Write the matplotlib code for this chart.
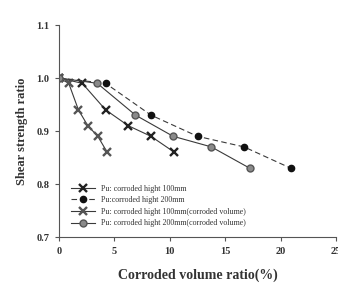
import matplotlib
matplotlib.use("Agg")
import matplotlib.pyplot as plt

# Werte
x_100 = [0, 2.1, 4.2, 6.25, 8.3, 10.4]
y_100 = [1.0, 0.99, 0.94, 0.91, 0.89, 0.86]

x_200 = [0, 4.2, 8.3, 12.5, 16.7, 20.9]
y_200 = [1.0, 0.99, 0.93, 0.89, 0.87, 0.83]

x_100v = [0, 0.88, 1.75, 2.6, 3.5, 4.35]
y_100v = [1.0, 0.99, 0.94, 0.91, 0.89, 0.86]

x_200v = [0, 3.45, 6.9, 10.3, 13.75, 17.2]
y_200v = [1.0, 0.99, 0.93, 0.89, 0.87, 0.83]

labels = [
    "Pu: corroded hight 100mm",
    "Pu:corroded hight 200mm",
    "Pu: corroded hight 100mm(corroded volume)",
    "Pu: corroded hight 200mm(corroded volume)",
]

plt.rcParams["font.family"] = ["Liberation Serif", "DejaVu Serif"]

fig = plt.figure(figsize=(3.38, 2.84), dpi=100)
ax = fig.add_axes([59 / 338, 1 - 237 / 284, 277 / 338, 212 / 284])

line_c = "#3a3a3a"
ax.plot(x_100, y_100, color=line_c, lw=0.8, marker="x", ms=5.5, mew=1.7,
        mec="#222222", label=labels[0])
ax.plot(x_200, y_200, color=line_c, lw=0.8, ls=(0, (5, 3)), marker="o", ms=4.5,
        mfc="#111111", mec="#111111", label=labels[1])
ax.plot(x_100v, y_100v, color=line_c, lw=0.8, marker="x", ms=5.5, mew=1.7,
        mec="#555555", label=labels[2])
ax.plot(x_200v, y_200v, color=line_c, lw=0.8, marker="o", ms=5,
        mfc="#8a8a8a", mec="#555555", label=labels[3])

ax.set_xlim(0, 25)
ax.set_ylim(0.7, 1.1)
ax.set_xticks([0, 5, 10, 15, 20, 25])
ax.set_yticks([0.7, 0.8, 0.9, 1.0, 1.1])
ax.set_yticklabels(["0.7", "0.8", "0.9", "1.0", "1.1"])

for s in ["top", "right"]:
    ax.spines[s].set_visible(False)
for s in ["left", "bottom"]:
    ax.spines[s].set_color("#555555")
    ax.spines[s].set_linewidth(0.8)

ax.tick_params(direction="out", length=3, width=0.8, color="#555555",
               labelsize=7.5, pad=4)
for t in ax.get_xticklabels() + ax.get_yticklabels():
    t.set_fontweight("bold")
    t.set_color("#333333")

ax.set_xlabel("Corroded volume ratio(%)", fontsize=10, fontweight="bold",
              color="#333333", labelpad=9)
ax.set_ylabel("Shear strength ratio", fontsize=9, fontweight="bold",
              color="#333333", labelpad=6)

ax.legend(loc="lower left", bbox_to_anchor=(0.03, 0.03), frameon=False,
          fontsize=5.8, handlelength=3.0, labelspacing=0.45, borderaxespad=0,
          labelcolor="#333333")

fig.savefig("out.png", dpi=100)
